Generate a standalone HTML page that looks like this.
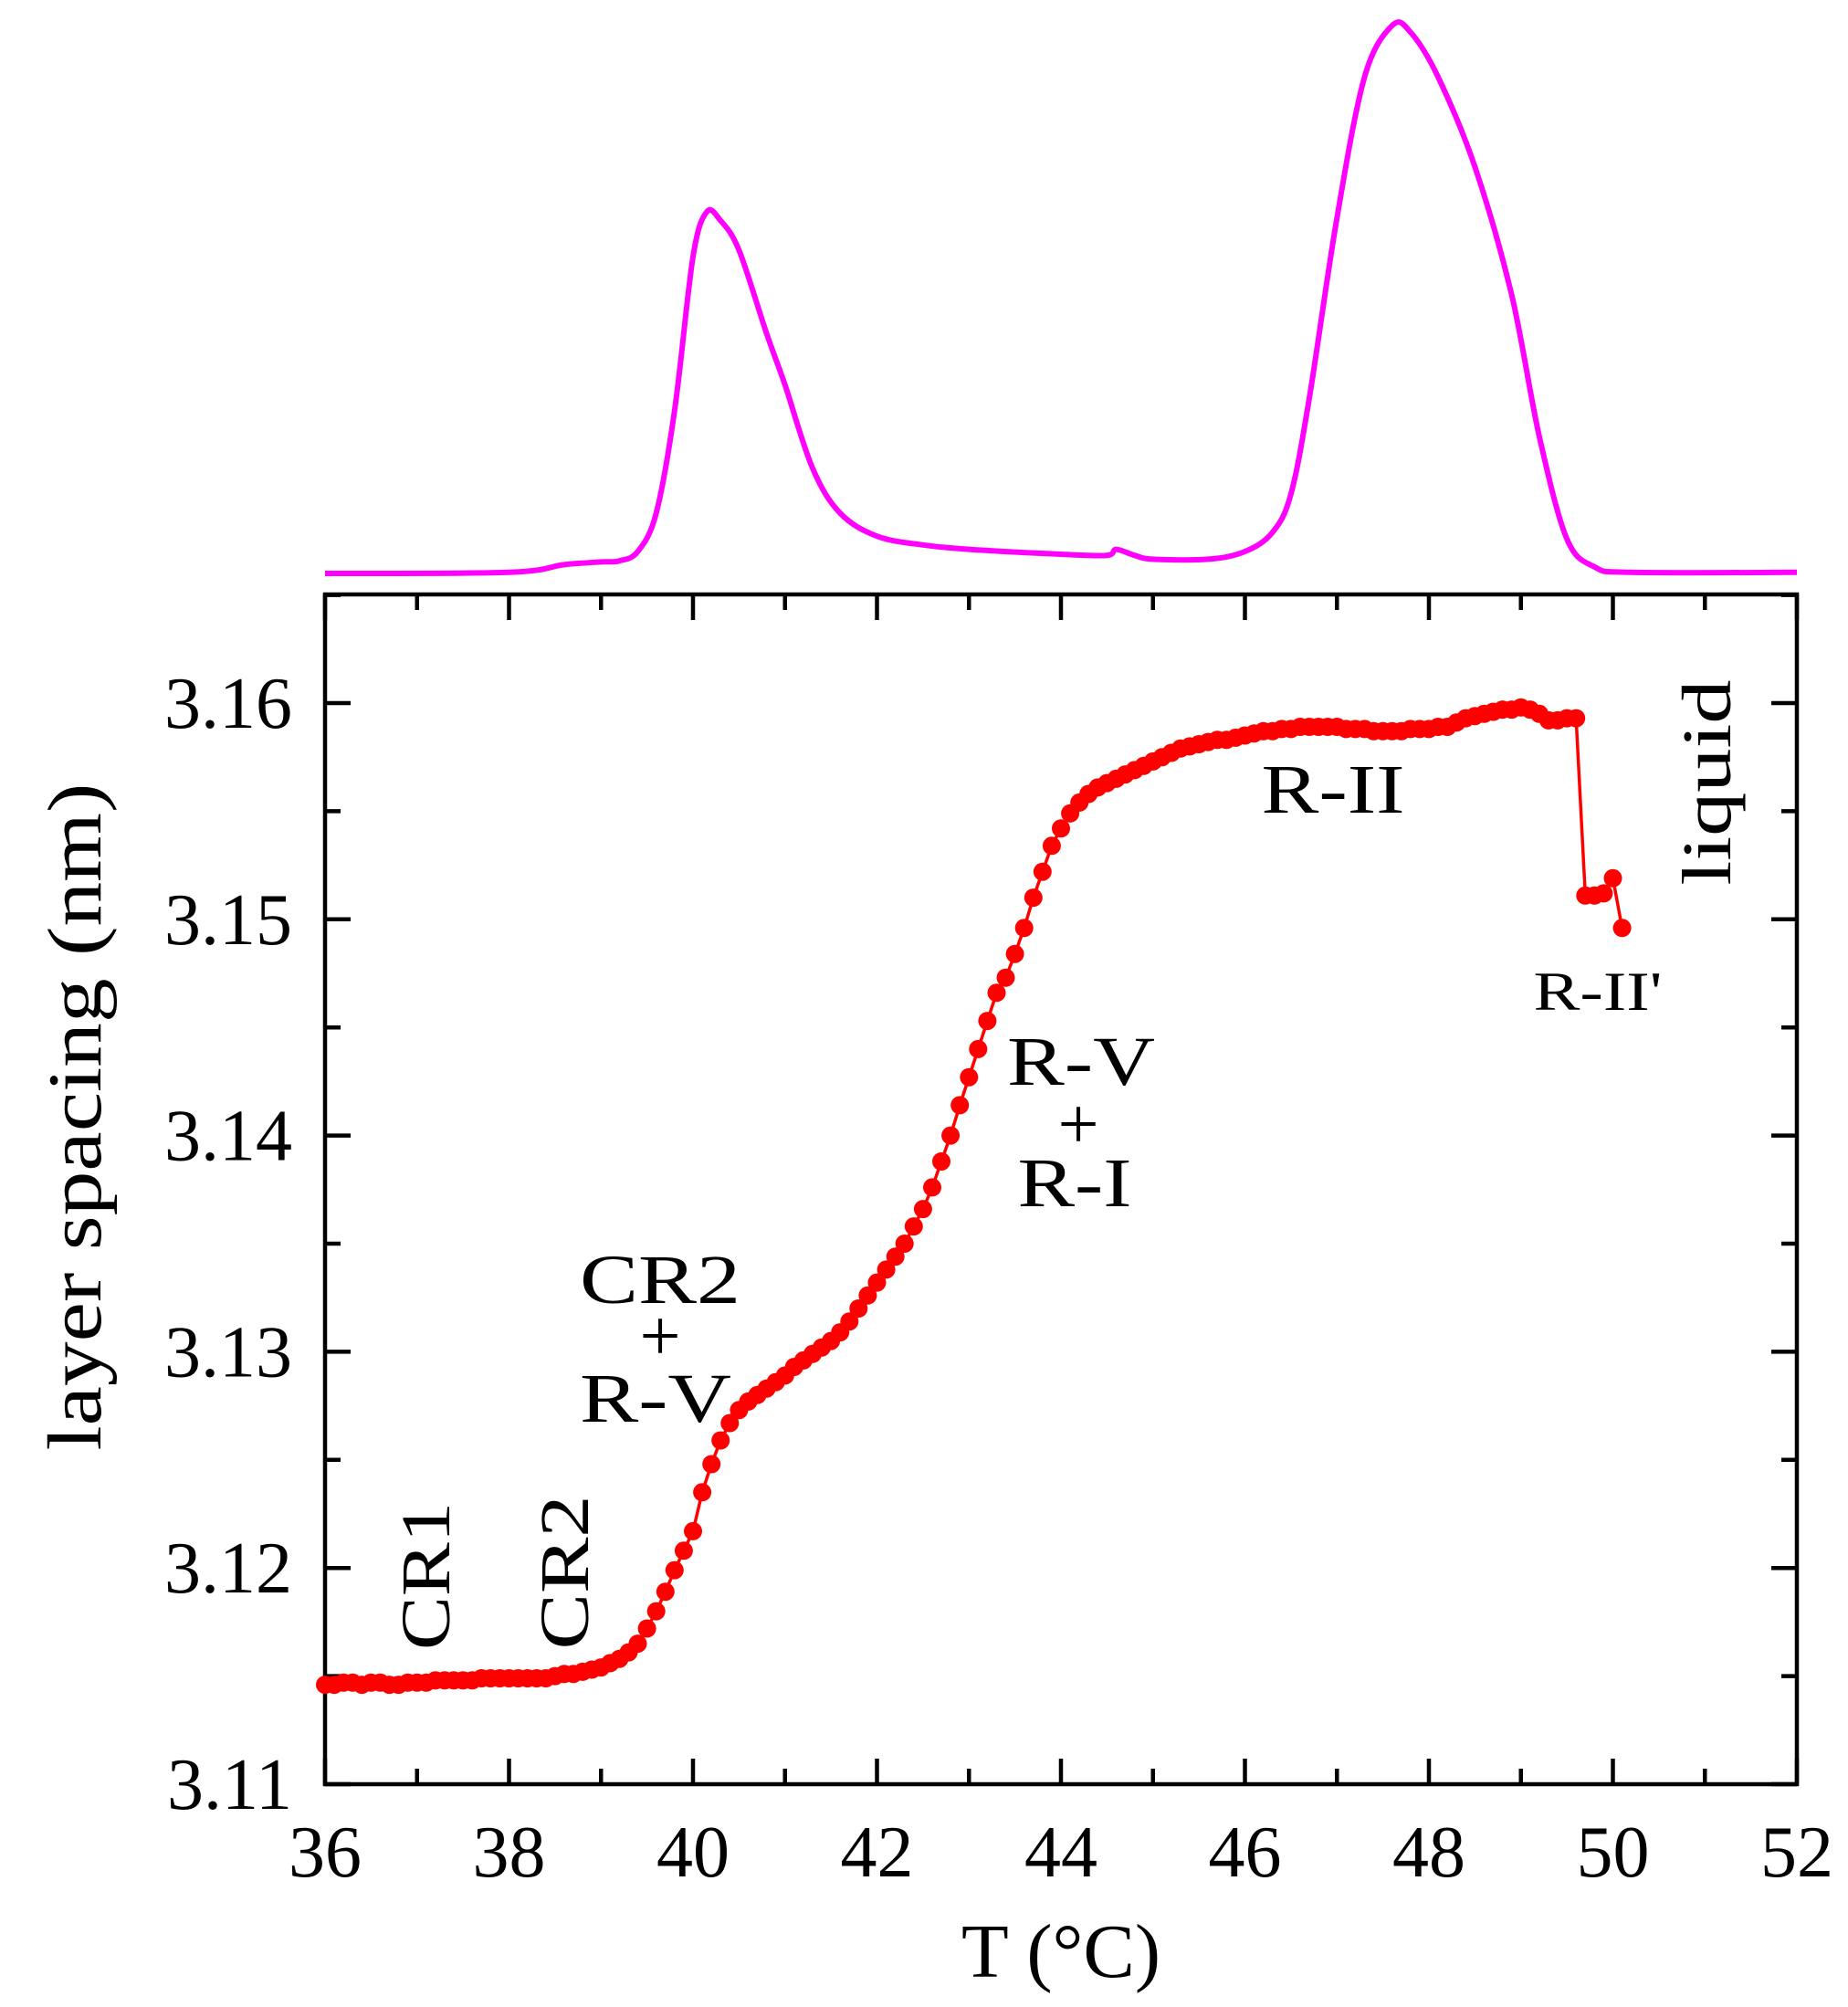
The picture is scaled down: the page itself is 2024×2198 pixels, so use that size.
<!DOCTYPE html>
<html><head><meta charset="utf-8"><style>
html,body{margin:0;padding:0;background:#fff;}
svg{display:block;}
text{font-family:"Liberation Serif",serif;fill:#000;}
</style></head><body>
<svg id="chart" width="2024" height="2198" viewBox="0 0 2024 2198" xmlns="http://www.w3.org/2000/svg">
<g id="dsc"></g>
<g id="frame"></g>
<g id="series"></g>
<g id="labels">
<text x="0" y="0" font-size="84" text-anchor="middle" transform="translate(110,1223) rotate(-90)" textLength="731" lengthAdjust="spacingAndGlyphs">layer spacing (nm)</text>
<text x="1162" y="2165" font-size="84" text-anchor="middle" textLength="218" lengthAdjust="spacingAndGlyphs">T (°C)</text>
<text font-size="76" text-anchor="middle" transform="translate(492,1726) rotate(-90)" textLength="162" lengthAdjust="spacingAndGlyphs">CR1</text>
<text font-size="76" text-anchor="middle" transform="translate(644,1722) rotate(-90)" textLength="169" lengthAdjust="spacingAndGlyphs">CR2</text>
<text font-size="76" text-anchor="middle" x="723" y="1427" textLength="176" lengthAdjust="spacingAndGlyphs">CR2</text>
<text font-size="80" text-anchor="middle" x="723" y="1490">+</text>
<text font-size="76" text-anchor="middle" x="718" y="1557" textLength="166" lengthAdjust="spacingAndGlyphs">R-V</text>
<text font-size="76" text-anchor="middle" x="1184" y="1188" textLength="162" lengthAdjust="spacingAndGlyphs">R-V</text>
<text font-size="80" text-anchor="middle" x="1181" y="1258">+</text>
<text font-size="76" text-anchor="middle" x="1177" y="1321" textLength="125" lengthAdjust="spacingAndGlyphs">R-I</text>
<text font-size="76" text-anchor="middle" x="1460" y="890" textLength="157" lengthAdjust="spacingAndGlyphs">R-II</text>
<text font-size="60" text-anchor="middle" x="1750" y="1106" textLength="141" lengthAdjust="spacingAndGlyphs">R-II'</text>
<text font-size="76" text-anchor="middle" transform="translate(1895,857) rotate(-90)" textLength="225" lengthAdjust="spacingAndGlyphs">liquid</text>
</g>
</svg>
<script>
// layer spacing data
const temps = [];
for (let i = 0; i <= 136; i++) temps.push(+(36 + i * 0.1).toFixed(1));
temps.push(49.7, 49.8, 49.9, 50.0, 50.1);
const spacing = [
3.1146,3.1146,3.1147,3.1147,3.1146,3.1147,3.1147,3.1146,3.1146,3.1147,3.1147,3.1147,3.1148,3.1148,3.1148,3.1148,3.1148,3.1149,3.1149,3.1149,3.1149,
3.1149,3.1149,3.1149,3.1149,3.1150,3.1151,3.1151,3.1152,3.1153,3.1154,
3.1156,3.1158,3.1161,3.1165,3.1172,3.1180,3.1189,3.1199,3.1208,3.1217,
3.1235,3.1248,3.1259,3.1267,3.1273,3.1277,3.1280,3.1283,3.1286,3.1289,
3.1293,3.1296,3.1299,3.1302,3.1305,3.1309,3.1314,3.1320,3.1326,3.1332,
3.1338,3.1344,3.1350,3.1358,3.1366,3.1376,3.1388,3.1400,3.1414,3.1427,
3.1440,3.1453,3.1466,3.1473,3.1484,3.1496,3.1510,3.1522,3.1534,3.1542,
3.1549,3.1554,3.1558,3.1561,3.1563,3.1565,3.1567,3.1569,3.1571,3.1573,
3.1575,3.1577,3.1579,3.1580,3.1581,3.1582,3.1583,3.1583,3.1584,3.1585,
3.1586,3.1587,3.1587,3.1588,3.1588,3.1589,3.1589,3.1589,3.1589,3.1589,
3.1588,3.1588,3.1588,3.1587,3.1587,3.1587,3.1587,3.1588,3.1588,3.1588,
3.1589,3.1589,3.1591,3.1593,3.1594,3.1595,3.1596,3.1597,3.1597,3.1598,
3.1597,3.1595,3.1592,3.1592,3.1593,3.1593,
3.1511,3.1511,3.1512,3.1519,3.1496];
// DSC data (arbitrary units)
const dscT = [36,38,38.6,39,39.2,39.4,39.6,39.8,40.0,40.15,40.3,40.5,40.8,41.0,41.3,41.6,42.0,42.5,43,44,44.5,44.6,44.8,45,45.6,46,46.3,46.5,46.7,47.0,47.3,47.6,47.8,48.1,48.5,48.9,49.2,49.5,49.8,50.2,52];
const dscH = [0,0.2,1.6,2.1,2.3,4,11,29.7,57.8,66,64.4,59,43.8,34.4,19.2,11,6.8,5.2,4.4,3.5,3.3,4.4,3.3,2.6,2.6,4,7.5,14.5,32,64.9,90.6,100,98.8,90.6,74.2,50.8,25,6.3,1.2,0.2,0.2];
const xTicks = [36,38,40,42,44,46,48,50,52];
const yTicks = [3.11,3.12,3.13,3.14,3.15,3.16];
const yTickLabels = ["3.11","3.12","3.13","3.14","3.15","3.16"];

const NS = "http://www.w3.org/2000/svg";
const L = 356, R = 1968, T = 651, B = 1954;
const xMin = 36, xMax = 52, yMin = 3.11;
const xs = v => L + (v - xMin) / (xMax - xMin) * (R - L);
const ys = v => B - (v - yMin) / 0.05 * (1954 - 770);
const hs = v => 628 - v * 6.0;
function mk(tag, attrs, parent) {
  const e = document.createElementNS(NS, tag);
  for (const k in attrs) e.setAttribute(k, attrs[k]);
  parent.appendChild(e);
  return e;
}
// DSC (smoothed via Catmull-Rom)
function smoothPath(px, py) {
  let d = 'M' + px[0].toFixed(1) + ',' + py[0].toFixed(1);
  for (let i = 0; i < px.length - 1; i++) {
    const x0 = px[Math.max(i - 1, 0)], y0 = py[Math.max(i - 1, 0)];
    const x1 = px[i], y1 = py[i], x2 = px[i + 1], y2 = py[i + 1];
    const x3 = px[Math.min(i + 2, px.length - 1)], y3 = py[Math.min(i + 2, px.length - 1)];
    const c1x = x1 + (x2 - x0) / 6, c1y = y1 + (y2 - y0) / 6;
    const c2x = x2 - (x3 - x1) / 6, c2y = y2 - (y3 - y1) / 6;
    d += 'C' + c1x.toFixed(1) + ',' + c1y.toFixed(1) + ' ' + c2x.toFixed(1) + ',' + c2y.toFixed(1) + ' ' + x2.toFixed(1) + ',' + y2.toFixed(1);
  }
  return d;
}
const dsc = document.getElementById('dsc');
const dp = mk('path', {d: smoothPath(dscT.map(xs), dscH.map(hs)), fill: 'none', stroke: '#ff00ff', 'stroke-width': 6, 'stroke-linejoin': 'round'}, dsc);


// frame
const fr = document.getElementById('frame');
const box = mk('rect', {x: L, y: T, width: R - L, height: B - T, fill: 'none', stroke: '#000', 'stroke-width': 4.5}, fr);


for (let v = 36; v <= 52; v += 1) {
  const major = v % 2 === 0, len = major ? 28 : 17, x = xs(v);
  const t1 = mk('line', {x1: x, x2: x, y1: B, y2: B - len, stroke: '#000', 'stroke-width': 4.5}, fr);
  
  
  const t2 = mk('line', {x1: x, x2: x, y1: T, y2: T + len, stroke: '#000', 'stroke-width': 4.5}, fr);
  
  
}
xTicks.forEach(v => {
  const t = mk('text', {x: xs(v), y: 2055, 'font-size': 80, 'text-anchor': 'middle'}, fr);
  t.textContent = v;
  
  
});
for (let i = 0; i <= 11; i++) {
  const v = 3.11 + i * 0.005, major = i % 2 === 0, len = major ? 28 : 17, y = ys(v);
  const t1 = mk('line', {x1: L, x2: L + len, y1: y, y2: y, stroke: '#000', 'stroke-width': 4.5}, fr);
  
  
  const t2 = mk('line', {x1: R, x2: R - len, y1: y, y2: y, stroke: '#000', 'stroke-width': 4.5}, fr);
  
  
}
yTicks.forEach((v, i) => {
  const t = mk('text', {x: 320, y: ys(v) + 27, 'font-size': 80, 'text-anchor': 'end'}, fr);
  t.textContent = yTickLabels[i];
  
  
});
// series
const sg = document.getElementById('series');
const ln = mk('path', {d: temps.map((t, i) => (i ? 'L' : 'M') + xs(t).toFixed(1) + ',' + ys(spacing[i]).toFixed(1)).join(''), fill: 'none', stroke: '#ff0000', 'stroke-width': 3.5}, sg);


temps.forEach((t, i) => {
  const c = mk('circle', {cx: xs(t).toFixed(1), cy: ys(spacing[i]).toFixed(1), r: 10, fill: '#ff0000'}, sg);
  
  
});
</script>
</body></html>
